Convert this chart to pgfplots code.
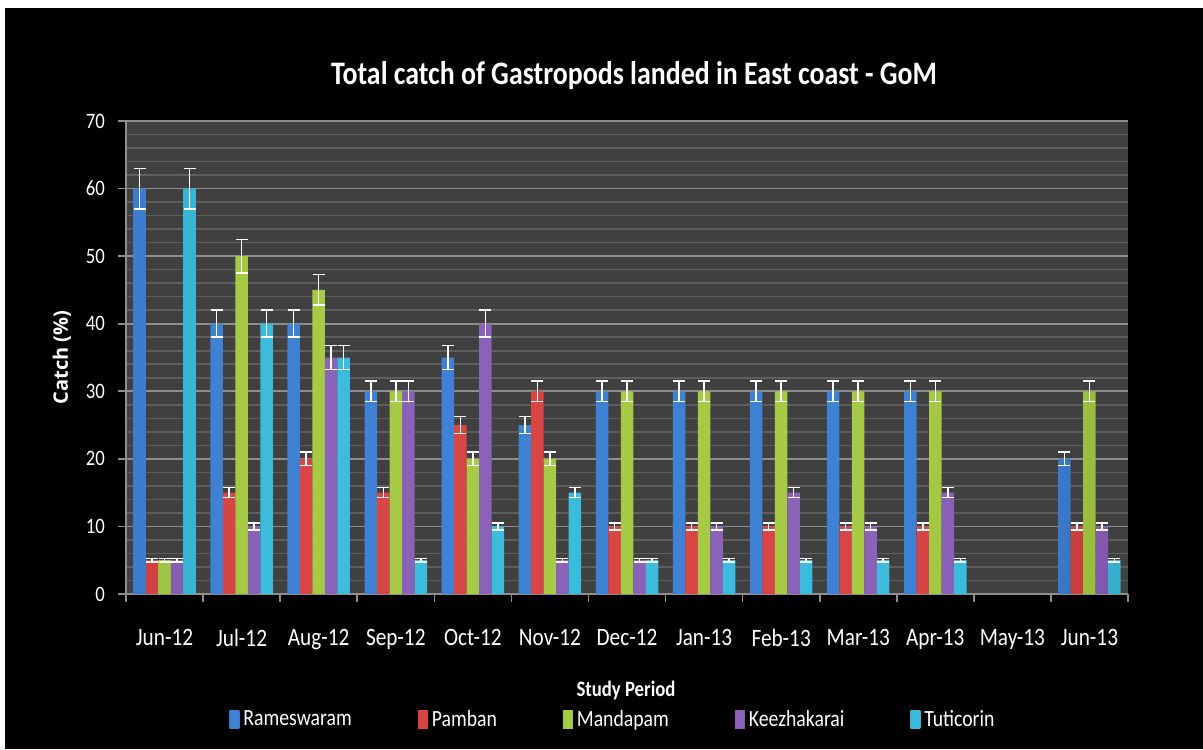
\documentclass[border=0pt]{standalone}
\usepackage{pgfplots}
\pgfplotsset{compat=1.18}
\usepackage{fontspec}
\setmainfont{Carlito}[FakeStretch=0.85]
\newfontfamily\ylabfont{Open Sans}
\definecolor{plotbg}{HTML}{404040}
\definecolor{majgrid}{HTML}{8E8E8E}
\definecolor{mingrid}{HTML}{5E5E5E}
\definecolor{cR}{HTML}{3F82D4}\definecolor{cRd}{HTML}{2C5FA3}
\definecolor{cP}{HTML}{D84545}\definecolor{cPd}{HTML}{A32E2E}
\definecolor{cM}{HTML}{A6CA45}\definecolor{cMd}{HTML}{7A9C30}
\definecolor{cK}{HTML}{8A62B8}\definecolor{cKd}{HTML}{65468E}
\definecolor{cT}{HTML}{3CBCDC}\definecolor{cTd}{HTML}{2889A5}
\pgfdeclarehorizontalshading{shR}{100bp}{color(0bp)=(cRd); color(30bp)=(cR); color(65bp)=(cR); color(100bp)=(cRd)}
\pgfdeclarehorizontalshading{shP}{100bp}{color(0bp)=(cPd); color(30bp)=(cP); color(65bp)=(cP); color(100bp)=(cPd)}
\pgfdeclarehorizontalshading{shM}{100bp}{color(0bp)=(cMd); color(30bp)=(cM); color(65bp)=(cM); color(100bp)=(cMd)}
\pgfdeclarehorizontalshading{shK}{100bp}{color(0bp)=(cKd); color(30bp)=(cK); color(65bp)=(cK); color(100bp)=(cKd)}
\pgfdeclarehorizontalshading{shT}{100bp}{color(0bp)=(cTd); color(30bp)=(cT); color(65bp)=(cT); color(100bp)=(cTd)}
\begin{document}
\begin{tikzpicture}
\fill[white] (0pt,0pt) rectangle (601.5pt,374.5pt);
\fill[black] (2.5pt,0pt) rectangle (601.5pt,370.5pt);
\begin{axis}[
  at={(63pt,77.5pt)}, anchor=south west,
  scale only axis, width=501pt, height=236.5pt,
  xmin=-0.5, xmax=12.5, ymin=0, ymax=70,
  ybar=0pt, bar width=6.25pt,
  axis background/.style={fill=plotbg},
  axis lines*=left,
  axis line style={majgrid, line width=0.8pt, -},
  ytick={0,10,...,70}, minor y tick num=4,
  ymajorgrids, yminorgrids,
  major grid style={majgrid, line width=0.8pt},
  minor grid style={mingrid, line width=0.8pt},
  tick align=outside, major tick length=4pt, minor tick length=0pt,
  tick style={majgrid, line width=0.8pt},
  xtick={-0.5,0.5,...,12.5},
  x tick label as interval,
  xticklabels={Jun-12,Jul-12,Aug-12,Sep-12,Oct-12,Nov-12,Dec-12,Jan-13,Feb-13,Mar-13,Apr-13,May-13,Jun-13},
  /pgf/number format/assume math mode=true,
  yticklabel style={white, font=\fontsize{11}{13}\selectfont, xshift=-3pt},
  xticklabel style={white, font=\fontsize{12.5}{14}\selectfont, yshift=-10pt},
  title={Total catch of Gastropods landed in East coast - GoM},
  title style={white, font=\fontsize{16.4}{19}\selectfont\bfseries, at={(0.507,1.097)}, anchor=center, yshift=-6pt},
  xlabel={Study Period},
  xlabel style={white, font=\fontsize{11}{13}\selectfont\bfseries, at={(0.499,-0.203)}, anchor=center},
  ylabel={Catch (\%)},
  ylabel style={white, font=\ylabfont\fontsize{10}{12}\selectfont\bfseries, at={(-0.064,0.5)}, anchor=center, rotate=0},
  legend style={at={(0.487,-0.266)}, anchor=center, fill=none, draw=none, text=white,
    font=\fontsize{11.6}{13}\selectfont, legend columns=5,
    /tikz/every even column/.append style={column sep=31pt}},
  legend image code/.code={\fill[#1] (0pt,-4.5pt) rectangle (5pt,4.5pt);},
  error bars/y dir=both, error bars/y explicit,
  error bars/error bar style={white, line width=0.75pt},
  error bars/error mark options={white, rotate=90, mark size=3pt, line width=0.75pt},
]
\addplot[draw=none, shading=shR] coordinates {
 (0,60) +- (0,3) (1,40) +- (0,2) (2,40) +- (0,2) (3,30) +- (0,1.5) (4,35) +- (0,1.75) (5,25) +- (0,1.25)
 (6,30) +- (0,1.5) (7,30) +- (0,1.5) (8,30) +- (0,1.5) (9,30) +- (0,1.5) (10,30) +- (0,1.5) (12,20) +- (0,1)};
\addplot[draw=none, shading=shP] coordinates {
 (0,5) +- (0,0.25) (1,15) +- (0,0.75) (2,20) +- (0,1) (3,15) +- (0,0.75) (4,25) +- (0,1.25) (5,30) +- (0,1.5)
 (6,10) +- (0,0.5) (7,10) +- (0,0.5) (8,10) +- (0,0.5) (9,10) +- (0,0.5) (10,10) +- (0,0.5) (12,10) +- (0,0.5)};
\addplot[draw=none, shading=shM] coordinates {
 (0,5) +- (0,0.25) (1,50) +- (0,2.5) (2,45) +- (0,2.25) (3,30) +- (0,1.5) (4,20) +- (0,1) (5,20) +- (0,1)
 (6,30) +- (0,1.5) (7,30) +- (0,1.5) (8,30) +- (0,1.5) (9,30) +- (0,1.5) (10,30) +- (0,1.5) (12,30) +- (0,1.5)};
\addplot[draw=none, shading=shK] coordinates {
 (0,5) +- (0,0.25) (1,10) +- (0,0.5) (2,35) +- (0,1.75) (3,30) +- (0,1.5) (4,40) +- (0,2) (5,5) +- (0,0.25)
 (6,5) +- (0,0.25) (7,10) +- (0,0.5) (8,15) +- (0,0.75) (9,10) +- (0,0.5) (10,15) +- (0,0.75) (12,10) +- (0,0.5)};
\addplot[draw=none, shading=shT] coordinates {
 (0,60) +- (0,3) (1,40) +- (0,2) (2,35) +- (0,1.75) (3,5) +- (0,0.25) (4,10) +- (0,0.5) (5,15) +- (0,0.75)
 (6,5) +- (0,0.25) (7,5) +- (0,0.25) (8,5) +- (0,0.25) (9,5) +- (0,0.25) (10,5) +- (0,0.25) (12,5) +- (0,0.25)};
\legend{Rameswaram,Pamban,Mandapam,Keezhakarai,Tuticorin}
\end{axis}
\end{tikzpicture}
\end{document}
